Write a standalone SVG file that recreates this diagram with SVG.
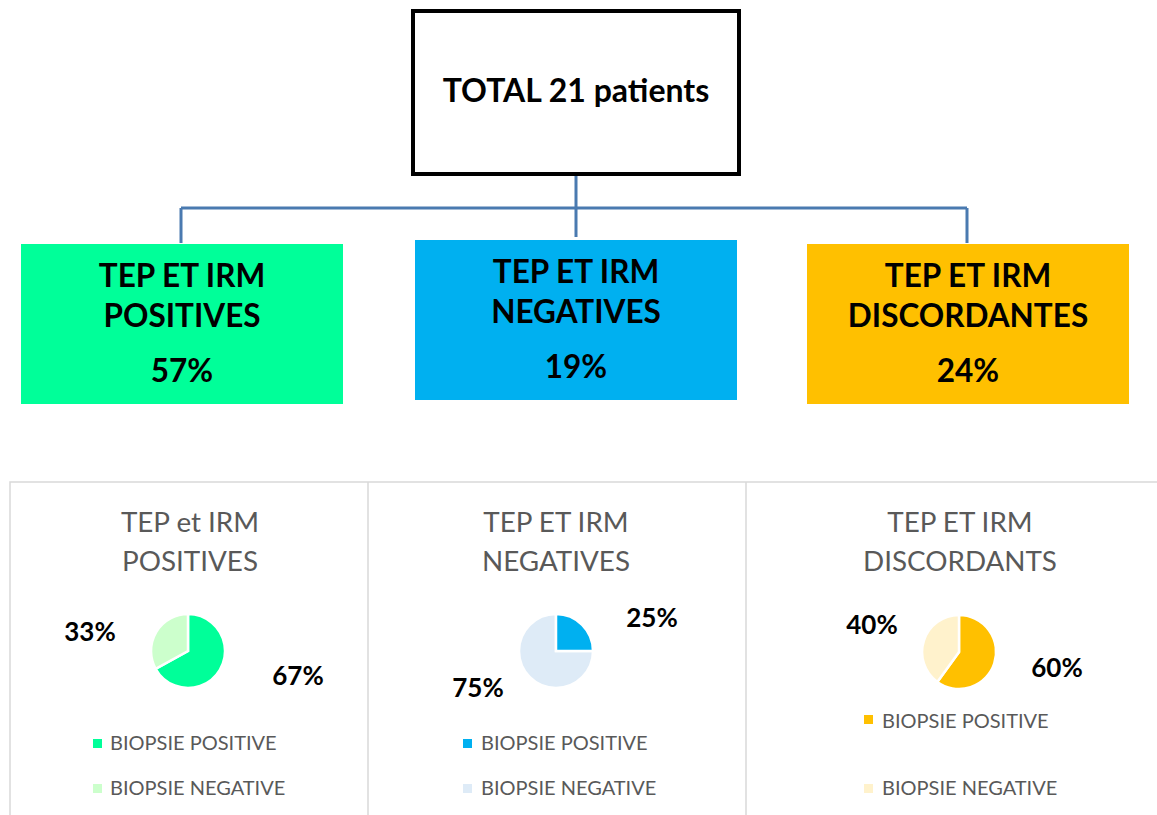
<svg xmlns="http://www.w3.org/2000/svg" width="1157" height="815" viewBox="0 0 1157 815">
<style>
.hdr{font-family:Lato,"Liberation Sans",sans-serif;font-weight:bold;fill:#000;text-anchor:middle}
.big{font-size:31.5px}
.ttl{font-family:Lato,"Liberation Sans",sans-serif;font-size:27.8px;fill:#595959;text-anchor:middle}
.pct{font-family:Lato,"Liberation Sans",sans-serif;font-weight:bold;font-size:26px;fill:#000;text-anchor:middle}
.leg{font-family:Lato,"Liberation Sans",sans-serif;font-size:20px;fill:#595959}
.conn{stroke:#4a7ab0;stroke-width:3;fill:none}
.sl{stroke:#fff;stroke-width:2.5}
.frame{stroke:#d9d9d9;stroke-width:1.5;fill:none}
</style>
<rect width="1157" height="815" fill="#fff"/>
<g id="connectors">
<path class="conn" d="M576,176 V237 M181,208 H967 M181,208 V243 M967,208 V243"/>
</g>
<g id="total">
<rect x="413" y="11" width="326" height="163" fill="#fff" stroke="#000" stroke-width="4"/>
<text class="hdr" x="576" y="102" font-size="32">TOTAL 21 patients</text>
</g>
<g id="positives">
<rect x="21" y="244" width="322" height="160" fill="#00FF99"/>
<text class="hdr big" x="182" y="287">TEP ET IRM</text>
<text class="hdr big" x="182" y="327">POSITIVES</text>
<text class="hdr big" x="182" y="382">57%</text>
</g>
<g id="negatives">
<rect x="415" y="240" width="322" height="160" fill="#00B0F0"/>
<text class="hdr big" x="576" y="283">TEP ET IRM</text>
<text class="hdr big" x="576" y="323">NEGATIVES</text>
<text class="hdr big" x="576" y="378">19%</text>
</g>
<g id="discordantes">
<rect x="807" y="244" width="322" height="160" fill="#FFC000"/>
<text class="hdr big" x="968" y="287">TEP ET IRM</text>
<text class="hdr big" x="968" y="327">DISCORDANTES</text>
<text class="hdr big" x="968" y="382">24%</text>
</g>
<g id="chart-frame">
<path class="frame" d="M10,815 V482 H1157 M368,482 V815 M746,482 V815"/>
</g>
<g id="chart-positives">
<text class="ttl" x="190" y="532">TEP et IRM</text>
<text class="ttl" x="190" y="571">POSITIVES</text>
<path class="sl" fill="#00FF99" d="M188,651 L188,614 A37,37 0 1 1 155.6,668.8 Z"/>
<path class="sl" fill="#CCFFCC" d="M188,651 L155.6,668.8 A37,37 0 0 1 188,614 Z"/>
<text class="pct" x="90" y="641">33%</text>
<text class="pct" x="298" y="685">67%</text>
<rect x="93" y="739" width="9" height="9" fill="#00FF99"/>
<text class="leg" x="110" y="750">BIOPSIE POSITIVE</text>
<rect x="93" y="784" width="9" height="9" fill="#CCFFCC"/>
<text class="leg" x="110" y="795">BIOPSIE NEGATIVE</text>
</g>
<g id="chart-negatives">
<text class="ttl" x="556" y="532">TEP ET IRM</text>
<text class="ttl" x="556" y="571">NEGATIVES</text>
<path class="sl" fill="#DEEBF7" d="M556,651 L593,651 A37,37 0 1 1 556,614 Z"/>
<path class="sl" fill="#00B0F0" d="M556,651 L556,614 A37,37 0 0 1 593,651 Z"/>
<text class="pct" x="652" y="627">25%</text>
<text class="pct" x="478" y="697">75%</text>
<rect x="463" y="739" width="9" height="9" fill="#00B0F0"/>
<text class="leg" x="481" y="750">BIOPSIE POSITIVE</text>
<rect x="463" y="784" width="9" height="9" fill="#DEEBF7"/>
<text class="leg" x="481" y="795">BIOPSIE NEGATIVE</text>
</g>
<g id="chart-discordants">
<text class="ttl" x="960" y="532">TEP ET IRM</text>
<text class="ttl" x="960" y="571">DISCORDANTS</text>
<path class="sl" fill="#FFC000" d="M959,652 L959,615 A37,37 0 1 1 937.3,681.9 Z"/>
<path class="sl" fill="#FFF2CC" d="M959,652 L937.3,681.9 A37,37 0 0 1 959,615 Z"/>
<text class="pct" x="872" y="634">40%</text>
<text class="pct" x="1057" y="677">60%</text>
<rect x="864" y="715" width="9" height="9" fill="#FFC000"/>
<text class="leg" x="882" y="728">BIOPSIE POSITIVE</text>
<rect x="864" y="784" width="9" height="9" fill="#FFF2CC"/>
<text class="leg" x="882" y="795">BIOPSIE NEGATIVE</text>
</g>
</svg>
